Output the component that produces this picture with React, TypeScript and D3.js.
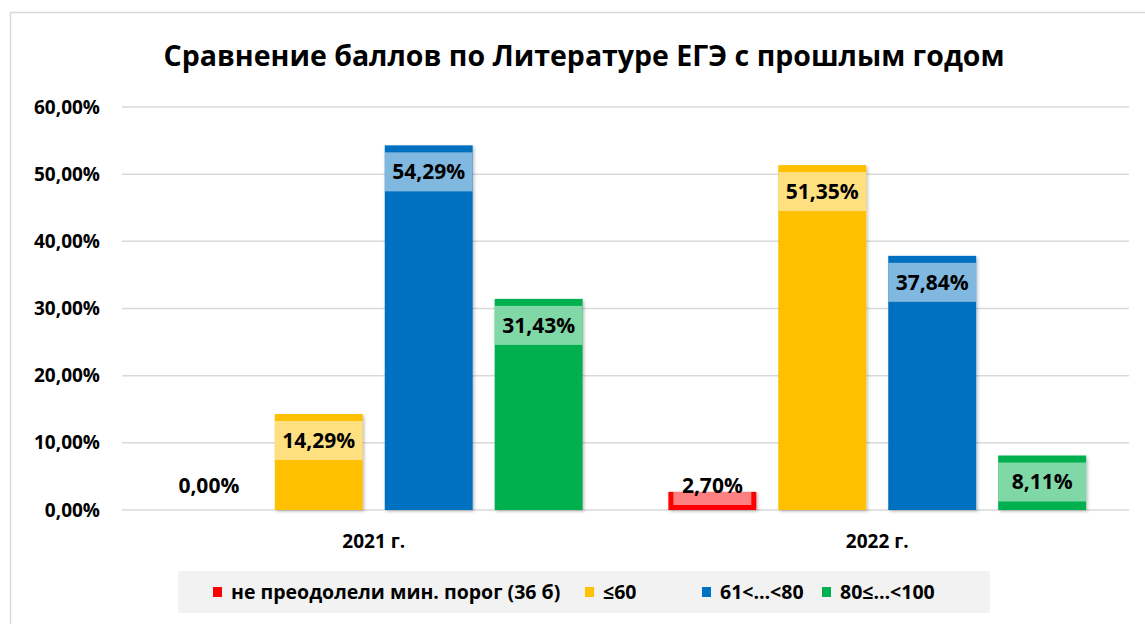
import { useEffect, useRef } from 'react';
import * as d3 from 'd3';

// данные с диаграммы
const years = ['2021 г.', '2022 г.'];
const seriesNames = ['не преодолели мин. порог (36 б)', '≤60', '61<…<80', '80≤…<100'];
const seriesColors = ['#FF0000', '#FFC000', '#0070C0', '#00B050'];
const values2021 = [0, 14.29, 54.29, 31.43];
const values2022 = [2.7, 51.35, 37.84, 8.11];
const yTicks = [0, 10, 20, 30, 40, 50, 60];
const title = 'Сравнение баллов по Литературе ЕГЭ с прошлым годом';

const W = 1145;
const H = 624;
const FONT = '"Open Sans", "DejaVu Sans", sans-serif';

const fmt = (v: number) => v.toFixed(2).replace('.', ',') + '%';

export default function App() {
  const svgRef = useRef<SVGSVGElement | null>(null);

  useEffect(() => {
    if (!svgRef.current) return;
    const svg = d3.select(svgRef.current);
    svg.selectAll('*').remove();

    const table = [values2021, values2022];

    const x0 = d3.scaleBand<string>().domain(years).range([122, 1129]).padding(0);
    const x1 = d3.scaleBand<string>()
      .domain(seriesNames)
      .range([0, x0.bandwidth()])
      .paddingInner(0.2)
      .paddingOuter(0.39);
    const y = d3.scaleLinear().domain([0, 60]).range([510, 107]);

    // тень столбцов
    const defs = svg.append('defs');
    defs.append('filter')
      .attr('id', 'shadow')
      .attr('x', '-10%').attr('y', '-10%').attr('width', '130%').attr('height', '130%')
      .append('feDropShadow')
      .attr('dx', 1.5).attr('dy', 1.5).attr('stdDeviation', 1.5)
      .attr('flood-color', '#000').attr('flood-opacity', 0.25);

    // фон и рамка
    svg.append('rect')
      .attr('x', 10.5).attr('y', 12.5)
      .attr('width', W).attr('height', H)
      .attr('fill', '#fff').attr('stroke', '#D9D9D9').attr('stroke-width', 1.5);

    svg.append('text')
      .attr('x', 584).attr('y', 66)
      .attr('text-anchor', 'middle')
      .attr('font-family', FONT).attr('font-weight', 700).attr('font-size', 28.5)
      .attr('fill', '#000')
      .text(title);

    // сетка
    svg.append('g')
      .selectAll('line')
      .data(yTicks)
      .join('line')
      .attr('x1', 122).attr('x2', 1129)
      .attr('y1', d => y(d)).attr('y2', d => y(d))
      .attr('stroke', '#D9D9D9').attr('stroke-width', 1.5);

    svg.append('g')
      .selectAll('text')
      .data(yTicks)
      .join('text')
      .attr('x', 100).attr('y', d => y(d))
      .attr('dy', '0.35em')
      .attr('text-anchor', 'end')
      .attr('font-family', FONT).attr('font-weight', 700).attr('font-size', 19)
      .attr('fill', '#000')
      .text(d => fmt(d));

    svg.append('g')
      .selectAll('text')
      .data(years)
      .join('text')
      .attr('x', d => (x0(d) as number) + x0.bandwidth() / 2)
      .attr('y', 548)
      .attr('text-anchor', 'middle')
      .attr('font-family', FONT).attr('font-weight', 700).attr('font-size', 19)
      .attr('fill', '#000')
      .text(d => d);

    const bars = years.flatMap((yr, i) =>
      seriesNames.map((s, j) => ({ yr, s, j, v: table[i][j] }))
    );

    const g = svg.append('g');
    g.selectAll('rect.bar')
      .data(bars.filter(d => d.v > 0))
      .join('rect')
      .attr('class', 'bar')
      .attr('x', d => (x0(d.yr) as number) + (x1(d.s) as number))
      .attr('y', d => y(d.v))
      .attr('width', x1.bandwidth())
      .attr('height', d => y(0) - y(d.v))
      .attr('fill', d => seriesColors[d.j])
      .attr('filter', 'url(#shadow)');

    // подписи данных с полупрозрачной подложкой
    const boxH = 39;
    const lbl = svg.append('g');
    bars.forEach(d => {
      const bx = (x0(d.yr) as number) + (x1(d.s) as number);
      const top = y(d.v);
      const tall = y(0) - top > boxH + 14;
      const by = tall ? top + 7 : y(0) - 5 - boxH;
      const inset = tall ? 0 : 5;
      const cx = bx + x1.bandwidth() / 2;
      if (d.v > 0) {
        // подложка видна только поверх столбца
        const clipId = `clip-${d.yr.slice(0, 4)}-${d.j}`;
        defs.append('clipPath').attr('id', clipId)
          .append('rect')
          .attr('x', bx).attr('y', top)
          .attr('width', x1.bandwidth()).attr('height', y(0) - top);
        lbl.append('rect')
          .attr('x', bx + inset).attr('y', by)
          .attr('width', x1.bandwidth() - inset * 2).attr('height', boxH)
          .attr('fill', '#fff').attr('fill-opacity', 0.5)
          .attr('clip-path', `url(#${clipId})`);
      }
      lbl.append('text')
        .attr('x', cx).attr('y', by + boxH / 2)
        .attr('dy', '0.35em')
        .attr('text-anchor', 'middle')
        .attr('font-family', FONT).attr('font-weight', 700).attr('font-size', 21)
        .attr('fill', '#000')
        .text(fmt(d.v));
    });

    // легенда
    const leg = svg.append('g');
    leg.append('rect')
      .attr('x', 178).attr('y', 571)
      .attr('width', 812).attr('height', 42)
      .attr('fill', '#F2F2F2');
    const legX = [213, 585, 702, 822];
    seriesNames.forEach((s, i) => {
      leg.append('rect')
        .attr('x', legX[i]).attr('y', 587)
        .attr('width', 9).attr('height', 10)
        .attr('fill', seriesColors[i]);
      leg.append('text')
        .attr('x', legX[i] + 18).attr('y', 592)
        .attr('dy', '0.35em')
        .attr('font-family', FONT).attr('font-weight', 700).attr('font-size', 19.5)
        .attr('fill', '#000')
        .text(s);
    });
  }, []);

  return (
    <svg
      ref={svgRef}
      width={W}
      height={H}
      style={{ position: 'absolute', left: 0, top: 0, display: 'block', background: '#fff' }}
    />
  );
}
